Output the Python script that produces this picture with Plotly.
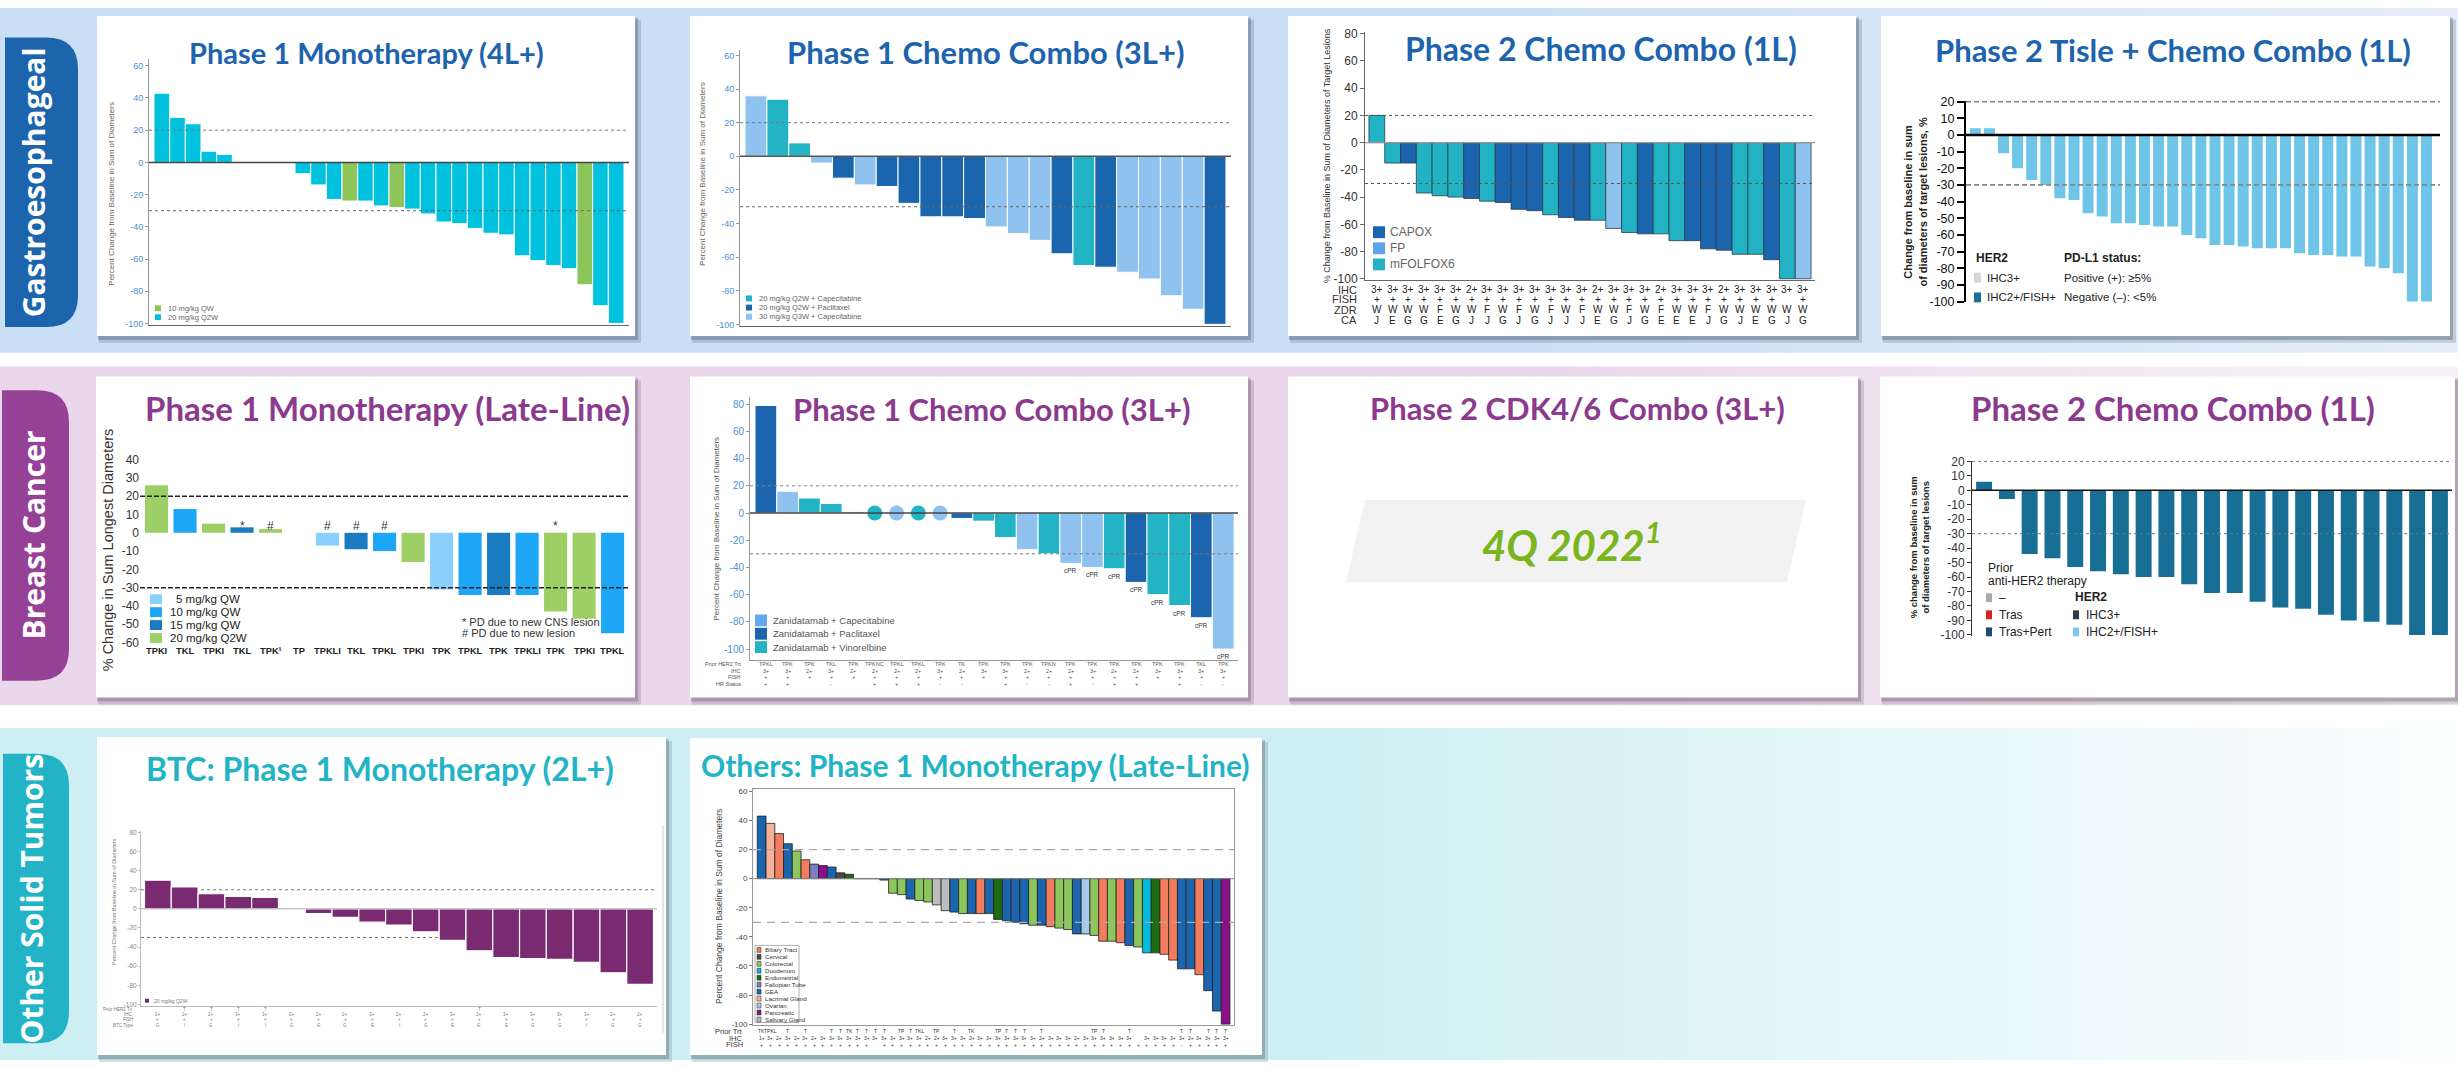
import plotly.graph_objects as go

W, H = 2458, 1067

# ============================ data ============================
# Gastroesophageal - Phase 1 monotherapy (4L+)
ge1_change = [43, 28, 24, 7, 5, 0, 0, 0, 0, -7,
              -14, -23, -24, -24, -27, -28, -29, -32, -37, -38,
              -41, -44, -45, -58, -61, -64, -66, -76, -89, -100]
ge1_dose = ["Q2W", "Q2W", "Q2W", "Q2W", "Q2W", "Q2W", "Q2W", "Q2W", "Q2W", "Q2W",
            "Q2W", "Q2W", "QW", "Q2W", "Q2W", "QW", "Q2W", "Q2W", "Q2W", "Q2W",
            "Q2W", "Q2W", "Q2W", "Q2W", "Q2W", "Q2W", "Q2W", "QW", "Q2W", "Q2W"]
ge1_legend = {"QW": "10 mg/kg QW", "Q2W": "20 mg/kg Q2W"}

# Gastroesophageal - Phase 1 chemo combo (3L+)
ge2_change = [36, 34, 8, -4, -13, -17, -18, -28, -36, -36, -37,
              -42, -46, -50, -58, -65, -66, -69, -73, -83, -91, -100]
ge2_arm = ["C30", "C20", "C20", "C30", "P20", "C30", "P20", "P20", "P20", "P20", "P20",
           "C30", "C30", "C30", "P20", "C20", "P20", "C30", "C30", "C30", "C30", "P20"]
ge2_legend = {"C20": "20 mg/kg Q2W + Capecitabine",
              "P20": "20 mg/kg Q2W + Paclitaxel",
              "C30": "30 mg/kg Q3W + Capecitabine"}

# Gastroesophageal - Phase 2 chemo combo (1L)
ge3_change = [20, -15, -15, -37, -39, -40, -41, -43, -44, -49, -50, -53, -55, -57,
              -57, -63, -66, -67, -67, -72, -72, -78, -79, -82, -82, -86, -100, -100]
ge3_regimen = ["mFOLFOX6", "mFOLFOX6", "CAPOX", "mFOLFOX6", "mFOLFOX6", "mFOLFOX6", "CAPOX",
               "mFOLFOX6", "CAPOX", "CAPOX", "CAPOX", "mFOLFOX6", "CAPOX", "CAPOX",
               "mFOLFOX6", "FP", "mFOLFOX6", "CAPOX", "mFOLFOX6", "mFOLFOX6", "CAPOX",
               "CAPOX", "CAPOX", "mFOLFOX6", "mFOLFOX6", "CAPOX", "mFOLFOX6", "FP"]
ge3_ihc = ["3+", "3+", "3+", "3+", "3+", "3+", "2+", "3+", "3+", "3+", "3+", "3+", "3+", "3+",
           "2+", "3+", "3+", "3+", "2+", "3+", "3+", "3+", "2+", "3+", "3+", "3+", "3+", "3+"]
ge3_fish = ["+", "+", "+", "+", "+", "+", "+", "+", "+", "+", "+", "+", "+", "+",
            "+", "+", "+", "+", "+", "+", "+", "+", "+", "+", "+", "+", "", "+"]
ge3_zdr = ["W", "W", "W", "W", "F", "W", "W", "F", "W", "F", "W", "F", "W", "F",
           "W", "W", "F", "W", "F", "W", "W", "F", "W", "W", "W", "W", "W", "W"]
ge3_ca = ["J", "E", "G", "G", "E", "G", "J", "J", "G", "J", "G", "J", "J", "J",
          "E", "G", "J", "G", "E", "E", "E", "J", "G", "J", "E", "G", "J", "G"]
ge3_rows = ["IHC", "FISH", "ZDR", "CA"]

# Gastroesophageal - Phase 2 tislelizumab + chemo combo (1L)
ge4_change = [4, 4, -11, -20, -27, -30, -38, -39, -47, -49, -53, -53, -54, -55, -55, -60, -62,
              -66, -66, -67, -68, -68, -68, -71, -72, -72, -73, -73, -79, -80, -83, -100, -100]

# Breast - Phase 1 monotherapy (late-line)
bc1_prior = ["TPKI", "TKL", "TPKI", "TKL", "TPK¹", "TP", "TPKLI", "TKL", "TPKL",
             "TPKI", "TPK", "TPKL", "TPK", "TPKLI", "TPK", "TPKI", "TPKL"]
bc1_change = [26, 13, 5, 3, 2, 0, -7, -9, -10, -16, -31, -34, -34, -34, -43, -47, -55]
bc1_dose = ["20", "10", "20", "15", "20", "20", "5", "15", "10",
            "20", "5", "10", "15", "10", "20", "20", "10"]
bc1_flag = ["", "", "", "*", "#", "", "#", "#", "#", "", "", "", "", "", "*", "", ""]
bc1_legend = {"5": "5 mg/kg QW", "10": "10 mg/kg QW", "15": "15 mg/kg QW", "20": "20 mg/kg Q2W"}
bc1_notes = ["* PD due to new CNS lesion", "# PD due to new lesion"]

# Breast - Phase 1 chemo combo (3L+)
bc2_change = [79, 16, 11, 7, 1, 0, 0, 0, 0, -4, -6, -18, -27, -30, -37, -40, -41, -51,
              -60, -68, -77, -100]
bc2_arm = ["Pac", "Cap", "Vin", "Vin", "Vin", "Vin", "Cap", "Vin", "Cap", "Pac", "Vin",
           "Vin", "Cap", "Vin", "Cap", "Cap", "Vin", "Pac", "Vin", "Vin", "Pac", "Cap"]
bc2_resp = ["", "", "", "", "", "", "", "", "", "", "", "", "", "",
            "cPR", "cPR", "cPR", "cPR", "cPR", "cPR", "cPR", "cPR"]
bc2_prior = ["TPKL", "TPK", "TPK", "TKL", "TPK", "TPKNC", "TPKL", "TPKL", "TPK", "TK", "TPK",
             "TPK", "TPK", "TPKN", "TPK", "TPK", "TPK", "TPK", "TPK", "TPK", "TKL", "TPK"]
bc2_ihc = ["3+", "3+", "2+", "3+", "2+", "2+", "2+", "2+", "3+", "2+", "3+",
           "3+", "2+", "2+", "2+", "3+", "2+", "2+", "3+", "3+", "3+", "3+"]
bc2_fish = ["+", "+", "+", "+", "+", "+", "+", "+", "+", "+", "+",
            "+", "+", "+", "+", "+", "+", "+", "+", "+", "+", "+"]
bc2_hr = ["+", "+", "", "-", "", "+", "+", "+", "-", "-", "",
          "+", "-", "-", "+", "-", "+", "+", "", "+", "-", "-"]
bc2_rows = ["Prior HER2 Trt", "IHC", "FISH", "HR Status"]
bc2_legend = {"Cap": "Zanidatamab + Capecitabine", "Pac": "Zanidatamab + Paclitaxel",
              "Vin": "Zanidatamab + Vinorelbine"}

# Breast - Phase 2 CDK4/6 combo (3L+): data readout pending
bc3_readout = "4Q 2022"

# Breast - Phase 2 chemo combo (1L)
bc4_change = [6, -6, -44, -47, -53, -56, -58, -60, -60, -65, -71, -71, -77, -81, -82,
              -86, -90, -91, -93, -100, -100]

# Other solid tumors - BTC Phase 1 monotherapy (2L+)
btc_change = [30, 23, 16, 13, 12, 0, -5, -9, -14, -17, -24, -33, -44, -51, -52, -53, -56, -67, -79]
btc_prior = ["", "T", "T", "T", "T", "", "", "", "", "", "", "", "T", "", "", "", "", "", ""]
btc_ihc = ["2+", "2+", "2+", "3+", "3+", "2+", "2+", "2+", "3+", "2+", "2+", "3+", "2+",
           "3+", "3+", "3+", "3+", "2+", "2+"]
btc_fish = ["+", "+", "+", "+", "+", "+", "+", "+", "+", "+", "+", "+", "+",
            "+", "+", "+", "+", "+", "+"]
btc_type = ["G", "I", "G", "I", "I", "G", "G", "G", "E", "I", "G", "E", "G",
            "E", "G", "G", "I", "G", "G"]
btc_rows = ["Prior HER2 Tx", "IHC", "FISH", "BTC Type"]

# Other solid tumors - Phase 1 monotherapy (late-line), other tumour types
oth_change = [43, 38, 31, 24, 19, 13, 10, 9, 8, 4,
              3, 0, 0, 0, -1, -10, -11, -14, -15, -16,
              -18, -22, -23, -24, -24, -24, -24, -28, -29, -30,
              -31, -32, -32, -33, -34, -35, -38, -38, -39, -43,
              -43, -44, -46, -47, -51, -51, -52, -56, -62, -62,
              -66, -77, -91, -100]
oth_tumor = ["GEA", "Lacrimal Gland", "Biliary Tract", "GEA", "Colorectal",
             "Biliary Tract", "Fallopian Tube", "Pancreatic", "GEA", "Cervical",
             "Endometrial", "GEA", "GEA", "GEA", "GEA",
             "Colorectal", "Colorectal", "GEA", "Colorectal", "Colorectal",
             "Salivary Gland", "Salivary Gland", "GEA", "Colorectal", "GEA",
             "Biliary Tract", "GEA", "Endometrial", "GEA", "GEA",
             "GEA", "Colorectal", "GEA", "Biliary Tract", "Colorectal",
             "Colorectal", "GEA", "Ovarian", "Colorectal", "Biliary Tract",
             "Colorectal", "Biliary Tract", "GEA", "Colorectal", "Duodenum",
             "Endometrial", "Biliary Tract", "Biliary Tract", "GEA", "GEA",
             "Biliary Tract", "GEA", "GEA", "Pancreatic"]
oth_prior = ["TK", "TPKL", "", "T", "", "T", "", "", "T", "T",
             "TK", "T", "T", "T", "T", "", "TP", "T", "TKL", "",
             "TP", "", "T", "", "TK", "", "", "TP", "T", "T",
             "T", "", "T", "", "", "", "", "", "TP", "T",
             "", "", "T", "", "", "", "", "", "T", "T",
             "", "T", "T", "T"]
oth_ihc = ["1+", "3+", "2+", "3+", "2+", "3+", "2+", "3+", "3+", "3+",
           "3+", "3+", "3+", "3+", "3+", "3+", "3+", "3+", "3+", "2+",
           "2+", "3+", "3+", "3+", "2+", "3+", "3+", "3+", "3+", "3+",
           "3+", "3+", "2+", "3+", "3+", "3+", "2+", "3+", "3+", "3+",
           "3+", "3+", "3+", "", "3+", "3+", "3+", "3+", "3+", "2+",
           "3+", "3+", "3+", "3+"]
oth_fish = ["+", "+", "+", "+", "+", "+", "+", "+", "+", "+",
            "+", "+", "+", "", "+", "+", "+", "+", "+", "+",
            "+", "+", "+", "+", "+", "+", "+", "+", "+", "+",
            "+", "+", "+", "+", "+", "+", "+", "+", "+", "+",
            "+", "+", "+", "+", "+", "+", "+", "+", "-", "+",
            "+", "+", "+", "+"]
oth_rows = ["Prior Trt", "IHC", "FISH"]
oth_types = ["Biliary Tract", "Cervical", "Colorectal", "Duodenum", "Endometrial",
             "Fallopian Tube", "GEA", "Lacrimal Gland", "Ovarian", "Pancreatic",
             "Salivary Gland"]

# ============================ styling ============================
SANS = "Liberation Sans, Arial, sans-serif"
NARROW = "Liberation Sans Narrow, Arial Narrow, Liberation Sans, sans-serif"
TITLE = "Lato, Carlito, Calibri, sans-serif"
LABEL = "Open Sans, DejaVu Sans, sans-serif"

BLUE_T, PURPLE_T, CYAN_T = "#1d63ad", "#8b3a8e", "#22b4c6"

ge1_col = {"QW": "#8ec55b", "Q2W": "#00c2df"}
ge2_col = {"C20": "#22b4c4", "P20": "#1a65ad", "C30": "#8fc2ee"}
ge3_col = {"CAPOX": "#1a65ad", "FP": "#8fc3ef", "mFOLFOX6": "#21b3c4"}
ge3_swatch = {"CAPOX": "#1a65ad", "FP": "#5ca3e7", "mFOLFOX6": "#21b3c4"}
bc1_col = {"5": "#8ad0fc", "10": "#1da6f6", "15": "#1a7cc0", "20": "#9dcf66"}
bc2_col = {"Cap": "#8fc2ee", "Pac": "#1a65ad", "Vin": "#22b4c4"}
bc2_swatch = {"Cap": "#62a9eb", "Pac": "#1a65ad", "Vin": "#22b4c4"}
oth_col = {"Biliary Tract": "#f47c5e", "Cervical": "#4a4a4a", "Colorectal": "#8dc65b",
           "Duodenum": "#00bcd8", "Endometrial": "#1f6b14", "Fallopian Tube": "#7c80c2",
           "GEA": "#1a65ad", "Lacrimal Gland": "#f6b196", "Ovarian": "#a7c9eb",
           "Pancreatic": "#8a108a", "Salivary Gland": "#bdbdbd"}

fig = go.Figure()
shapes, anns = [], []
PANEL = {}


def X(p):
    return p / W


def Y(p):
    return 1 - p / H


def sfx(n):
    return "" if n == 1 else str(n)


def ref(n):
    return "x" + sfx(n), "y" + sfx(n)


def rect(x0, y0, x1, y1, fill, layer="below", line_color=None, line_width=0):
    shapes.append(dict(type="rect", xref="paper", yref="paper",
                       x0=X(x0), x1=X(x1), y0=Y(y1), y1=Y(y0),
                       fillcolor=fill, layer=layer,
                       line=dict(color=line_color or fill, width=line_width)))


def note(x, y, text, size, color, family=SANS, xanchor="center", yanchor="middle", angle=0):
    anns.append(dict(x=X(x), y=Y(y), xref="paper", yref="paper", text=text, showarrow=False,
                     font=dict(size=size, color=color, family=family),
                     xanchor=xanchor, yanchor=yanchor, textangle=angle))


def mix(c0, c1, t):
    a = [int(c0[i:i + 2], 16) for i in (1, 3, 5)]
    b = [int(c1[i:i + 2], 16) for i in (1, 3, 5)]
    return "#" + "".join(f"{round(u + (v - u) * t):02x}" for u, v in zip(a, b))


def hgrad(x0, x1, y0, y1, c0, c1, steps=40):
    for i in range(steps):
        xa = x0 + (x1 - x0) * i / steps
        xb = x0 + (x1 - x0) * (i + 1) / steps + 0.6
        rect(xa, y0, xb, y1, mix(c0, c1, i / (steps - 1)))


def band(y0, y1, c0, c1, fade_from):
    rect(0, y0, fade_from + 1, y1, c0)
    hgrad(fade_from, W, y0, y1, c0, c1)


def card(x0, y0, x1, y1, shade):
    rect(x0 + 2, y0 + 4, x1 + 6, y1 + 7, f"rgba({shade},0.22)")
    rect(x0 + 1, y0 + 2, x1 + 3, y1 + 4, f"rgba({shade},0.35)")
    rect(x0, y0, x1, y1, "#ffffff")


def side_tab(x0, y0, x1, y1, r, fill, text, tx):
    path = (f"M {X(x0)},{Y(y0)} L {X(x1 - r)},{Y(y0)} Q {X(x1)},{Y(y0)} {X(x1)},{Y(y0 + r)} "
            f"L {X(x1)},{Y(y1 - r)} Q {X(x1)},{Y(y1)} {X(x1 - r)},{Y(y1)} L {X(x0)},{Y(y1)} Z")
    shapes.append(dict(type="path", xref="paper", yref="paper", path=path,
                       fillcolor=fill, line=dict(width=0), layer="below"))
    note(tx, (y0 + y1) / 2, f"<b>{text}</b>", 30, "#ffffff", LABEL, angle=-90)


def axes(n, xpx, ypx, xr, yr, xs=None, ys=None):
    PANEL[n] = (ypx, yr)
    xa = dict(domain=[X(xpx[0]), X(xpx[1])], range=xr, anchor="y" + sfx(n),
              showgrid=False, zeroline=False, showticklabels=False, ticks="",
              showline=False, fixedrange=True)
    ya = dict(domain=[Y(ypx[1]), Y(ypx[0])], range=yr, anchor="x" + sfx(n),
              showgrid=False, zeroline=False, showline=False, fixedrange=True)
    xa.update(xs or {})
    ya.update(ys or {})
    fig.update_layout({"xaxis" + sfx(n): xa, "yaxis" + sfx(n): ya})


def bars(n, values, colors, width=1.0, line_color="#ffffff", line_width=1.0, **kw):
    xr, yr = ref(n)
    fig.add_trace(go.Bar(x=list(range(len(values))), y=values, width=width,
                         marker=dict(color=colors, line=dict(color=line_color, width=line_width)),
                         xaxis=xr, yaxis=yr, hoverinfo="skip", showlegend=False, **kw))


def hline(n, y, color, width, dash="solid", layer="above"):
    s = sfx(n)
    shapes.append(dict(type="line", xref=f"x{s} domain", yref=f"y{s}", x0=0, x1=1,
                       y0=y, y1=y, line=dict(color=color, width=width, dash=dash), layer=layer))


def text_row(n, labels, pix, size, color, family=SANS):
    # one label per bar slot, placed at a fixed height on the card
    for i, lab in enumerate(labels):
        if lab:
            anns.append(dict(x=i, xref="x" + sfx(n), y=Y(pix), yref="paper", text=lab,
                             showarrow=False, xanchor="center", yanchor="middle",
                             font=dict(size=size, color=color, family=family)))


def bar_tags(n, labels, values, size, color, family=SANS):
    # response tags hung just below the end of each bar
    for i, (lab, v) in enumerate(zip(labels, values)):
        if lab:
            anns.append(dict(x=i, xref="x" + sfx(n), y=v, yref="y" + sfx(n), text=lab,
                             showarrow=False, xanchor="center", yanchor="top", yshift=-2,
                             font=dict(size=size, color=color, family=family)))


def yticks(vals, size, color, family=SANS, **kw):
    d = dict(tickmode="array", tickvals=vals, ticktext=[str(v) for v in vals],
             showticklabels=True, tickfont=dict(size=size, color=color, family=family))
    d.update(kw)
    return d


# ============================ background ============================
band(2, 351, "#c9dff5", "#e6eff9", 1500)
band(365, 708, "#ebd7eb", "#f8f2f8", 1550)
band(731, 1067, "#cdeff3", "#fbfefe", 1270)

side_tab(5, 32, 78, 325, 32, "#1c64ac", "Gastroesophageal", 33)
side_tab(2, 389, 69, 683, 32, "#954196", "Breast Cancer", 33)
side_tab(3, 757, 69, 1050, 32, "#22b4c6", "Other Solid Tumors", 31)

for c in [(97, 10, 635, 334), (690, 10, 1248, 334), (1288, 10, 1856, 334), (1881, 10, 2450, 334)]:
    card(*c, "70,85,110")
for c in [(96, 375, 635, 700), (690, 375, 1248, 700), (1288, 375, 1858, 700), (1880, 375, 2455, 700)]:
    card(*c, "105,80,110")
for c in [(97, 740, 666, 1062), (690, 741, 1262, 1062)]:
    card(*c, "80,110,120")

# ============================ GE 1: Phase 1 monotherapy ============================
axes(1, (149, 629), (54, 323), [-0.82, 29.82], [-101, 64],
     xs=dict(showline=True, linecolor="#666", linewidth=1),
     ys=dict(showline=True, linecolor="#999", linewidth=1, ticks="outside", ticklen=3,
             tickcolor="#999", **yticks(list(range(-100, 61, 20)), 9, "#4f8fd0")))
bars(1, ge1_change, [ge1_col[d] for d in ge1_dose])
hline(1, 20, "#777", 1, "dot")
hline(1, -30, "#666", 1, "dot")
hline(1, 0, "#444", 1.5)
note(366, 47, "<b>Phase 1 Monotherapy (4L+)</b>", 29, BLUE_T, TITLE)
note(112, 190, "Percent Change from Baseline in Sum of Diameters", 8, "#666", SANS, angle=-90)
for i, k in enumerate(["QW", "Q2W"]):
    yy = 306 + 9 * i
    rect(155, yy - 3, 161, yy + 3, ge1_col[k], layer="above")
    note(166, yy, ge1_legend[k], 7.5, "#666", SANS, xanchor="left")

# ============================ GE 2: Phase 1 chemo combo ============================
axes(2, (740, 1231), (45, 324), [-0.73, 21.73], [-101, 63],
     xs=dict(showline=True, linecolor="#666", linewidth=1),
     ys=dict(showline=True, linecolor="#999", linewidth=1, ticks="outside", ticklen=3,
             tickcolor="#999", **yticks(list(range(-100, 61, 20)), 9, "#4f8fd0")))
bars(2, ge2_change, [ge2_col[a] for a in ge2_arm])
hline(2, 20, "#777", 1, "dot")
hline(2, -30, "#666", 1, "dot")
hline(2, 0, "#555", 1.5)
note(985, 47, "<b>Phase 1 Chemo Combo (3L+)</b>", 31, BLUE_T, TITLE)
note(703, 170, "Percent Change from Baseline in Sum of Diameters", 8, "#666", SANS, angle=-90)
for i, k in enumerate(["C20", "P20", "C30"]):
    yy = 296 + 9.3 * i
    rect(746, yy - 3, 752, yy + 3, ge2_col[k], layer="above")
    note(757, yy, ge2_legend[k], 7.5, "#666", SANS, xanchor="left")

# ============================ GE 3: Phase 2 chemo combo ============================
axes(3, (1365, 1815), (26.7, 277.5), [-0.75, 27.75], [-101, 81],
     xs=dict(showline=True, linecolor="#666", linewidth=1),
     ys=dict(showline=True, linecolor="#666", linewidth=1, ticks="outside", ticklen=4,
             tickcolor="#666", **yticks(list(range(-100, 81, 20)), 12, "#333")))
bars(3, ge3_change, [ge3_col[r] for r in ge3_regimen], line_color="#2e3b48", line_width=0.8)
hline(3, 20, "#555", 1, "3px,3px")
hline(3, -30, "#555", 1, "3px,3px")
hline(3, 0, "#999", 1.2)
note(1601, 43, "<b>Phase 2 Chemo Combo (1L)</b>", 32, BLUE_T, TITLE)
note(1327, 152, "% Change from Baseline in Sum of Diameters of Target Lesions", 9, "#333",
     SANS, angle=-90)
for i, k in enumerate(["CAPOX", "FP", "mFOLFOX6"]):
    yy = 229 + 16.3 * i
    rect(1373, yy - 6, 1385, yy + 6, ge3_swatch[k], layer="above")
    note(1388, yy, k, 12, "#666", SANS, xanchor="left")
for lab, row, pix in zip(ge3_rows, [ge3_ihc, ge3_fish, ge3_zdr, ge3_ca], [287, 297, 307.5, 318]):
    note(1359, pix, lab, 11, "#333", SANS, xanchor="right")
    text_row(3, row, pix, 10, "#222", SANS)

# ============================ GE 4: Phase 2 tislelizumab + chemo ============================
axes(4, (1966, 2440), (96, 300), [-0.66, 32.96], [-100.5, 20.5],
     ys=dict(showline=True, linecolor="#000", linewidth=2, ticks="outside", ticklen=7,
             tickwidth=1.5, tickcolor="#000", **yticks(list(range(-100, 21, 10)), 12.5, "#111",
                                                        NARROW)))
bars(4, ge4_change, "#6fc5e8", width=0.78, line_width=0)
hline(4, 20, "#888", 1.8, "5px,3px")
hline(4, -30, "#888", 1.8, "5px,3px")
hline(4, 0, "#000", 2.5)
note(2173, 45, "<b>Phase 2 Tisle + Chemo Combo (1L)</b>", 31, BLUE_T, TITLE)
note(1915, 198, "<b>Change from baseline in sum<br>of diameters of target lesions, %</b>",
     11, "#222", SANS, angle=-90)
note(1974, 255, "<b>HER2</b>", 12, "#222", NARROW, xanchor="left")
rect(1974, 270, 1981, 280, "#d3d6da", layer="above")
note(1985, 275, "IHC3+", 11.5, "#222", NARROW, xanchor="left")
rect(1974, 290, 1981, 300, "#1b6f8e", layer="above")
note(1985, 295, "IHC2+/FISH+", 11.5, "#222", NARROW, xanchor="left")
note(2062, 255, "<b>PD-L1 status:</b>", 12, "#222", NARROW, xanchor="left")
note(2062, 275, "Positive (+): ≥5%", 11.5, "#222", NARROW, xanchor="left")
note(2062, 295, "Negative (–): <5%", 11.5, "#222", NARROW, xanchor="left")

# ============================ BC 1: Phase 1 monotherapy ============================
axes(5, (140, 628), (455.6, 648), [-0.58, 16.54], [-62, 42],
     ys=dict(ticks="", **yticks(list(range(-60, 41, 10)), 12, "#333", NARROW)))
bars(5, bc1_change, [bc1_col[d] for d in bc1_dose], width=0.81, line_width=0)
hline(5, 20, "#222", 1.5, "5px,2px")
hline(5, -30, "#222", 1.5, "5px,2px")
note(387, 407, "<b>Phase 1 Monotherapy (Late-Line)</b>", 33, PURPLE_T, TITLE)
note(108, 551, "% Change in Sum Longest Diameters", 14.5, "#333", NARROW, angle=-90)
text_row(5, [f"<b>{p}</b>" for p in bc1_prior], 653, 9.3, "#222", SANS)
text_row(5, bc1_flag, 526, 12, "#333", SANS)
for i, k in enumerate(["5", "10", "15", "20"]):
    yy = 600.5 + 13.1 * i
    rect(150, yy - 5, 162, yy + 5, bc1_col[k], layer="above")
    note(168 if k != "5" else 174, yy, bc1_legend[k], 11.5, "#222", NARROW, xanchor="left")
for i, t in enumerate(bc1_notes):
    note(460, 624 + 11 * i, t, 11, "#333", NARROW, xanchor="left")

# ============================ BC 2: Phase 1 chemo combo ============================
axes(6, (750, 1238), (395.5, 662), [-0.73, 21.68], [-108, 85.5],
     xs=dict(showline=True, linecolor="#999", linewidth=1),
     ys=dict(showline=True, linecolor="#999", linewidth=1, ticks="outside", ticklen=3,
             tickcolor="#999", **yticks(list(range(-100, 81, 20)), 10, "#4f8fd0")))
bars(6, bc2_change, [bc2_col[a] for a in bc2_arm])
bar_tags(6, bc2_resp, bc2_change, 6.5, "#333")
zero_idx = [i for i, v in enumerate(bc2_change) if v == 0]
fig.add_trace(go.Scatter(x=zero_idx, y=[bc2_change[i] for i in zero_idx], mode="markers",
                         marker=dict(size=15, color=[bc2_col[bc2_arm[i]] for i in zero_idx]),
                         xaxis="x6", yaxis="y6", hoverinfo="skip", showlegend=False,
                         cliponaxis=False))
hline(6, 20, "#888", 1, "dot")
hline(6, -30, "#777", 1, "dot")
hline(6, 0, "#444", 1.5)
note(991, 408, "<b>Phase 1 Chemo Combo (3L+)</b>", 31, PURPLE_T, TITLE)
note(717, 529, "Percent Change from Baseline in Sum of Diameters", 8, "#555", SANS, angle=-90)
for i, k in enumerate(["Cap", "Pac", "Vin"]):
    yy = 622 + 13.5 * i
    rect(755, yy - 6, 767, yy + 6, bc2_swatch[k], layer="above")
    note(771, yy, bc2_legend[k], 9.5, "#555", NARROW, xanchor="left")
for lab, row, pix in zip(bc2_rows, [bc2_prior, bc2_ihc, bc2_fish, bc2_hr], [666, 673, 679.5, 686]):
    note(743, pix, lab, 5.5, "#555", SANS, xanchor="right")
    text_row(6, row, pix, 5.5, "#555", SANS)

# ============================ BC 3: Phase 2 CDK4/6 combo ============================
note(1577, 407, "<b>Phase 2 CDK4/6 Combo (3L+)</b>", 31, PURPLE_T, TITLE)
shapes.append(dict(type="path", xref="paper", yref="paper", fillcolor="#f2f2f2",
                   line=dict(width=0), layer="below",
                   path=(f"M {X(1365)},{Y(500)} L {X(1806)},{Y(500)} L {X(1787)},{Y(583)} "
                         f"L {X(1346)},{Y(583)} Z")))
note(1572, 543, f"<b><i>{bc3_readout}<sup>1</sup></i></b>", 42, "#7ab51d", TITLE)

# ============================ BC 4: Phase 2 chemo combo ============================
axes(7, (1972, 2452), (460.3, 638.1), [-0.53, 20.53], [-101, 20.5],
     ys=dict(showline=True, linecolor="#333", linewidth=1, ticks="outside", ticklen=4,
             tickcolor="#333", **yticks(list(range(-100, 21, 10)), 12, "#333", NARROW)))
bars(7, bc4_change, "#176f96", width=0.7, line_width=0)
hline(7, 20, "#777", 1, "dot")
hline(7, -30, "#777", 1, "dot")
hline(7, 0, "#111", 1.5)
note(2173, 407, "<b>Phase 2 Chemo Combo (1L)</b>", 33, PURPLE_T, TITLE)
note(1919, 548, "<b>% change from baseline in sum<br>of diameters of target lesions</b>",
     9.5, "#222", SANS, angle=-90)
note(1986, 569, "Prior", 12, "#222", NARROW, xanchor="left")
note(1986, 582, "anti-HER2 therapy", 12, "#222", NARROW, xanchor="left")
for i, (col, lab) in enumerate([("#a9a9a9", "–"), ("#d9261c", "Tras"), ("#1b4a73", "Tras+Pert")]):
    yy = 599 + 17.3 * i
    rect(1986, yy - 4.5, 1992, yy + 4.5, col, layer="above")
    note(1997, yy, lab, 12, "#222", NARROW, xanchor="left")
note(2073, 598, "<b>HER2</b>", 12, "#222", NARROW, xanchor="left")
for i, (col, lab) in enumerate([("#2b3a48", "IHC3+"), ("#7cc8ef", "IHC2+/FISH+")]):
    yy = 616.3 + 17.3 * i
    rect(2073, yy - 4.5, 2079, yy + 4.5, col, layer="above")
    note(2084, yy, lab, 12, "#222", NARROW, xanchor="left")

# ============================ OST 1: BTC ============================
axes(8, (141, 657), (834.7, 1012.6), [-0.63, 18.63], [-102, 82],
     xs=dict(showline=True, linecolor="#bbb", linewidth=1),
     ys=dict(showline=True, linecolor="#bbb", linewidth=1, ticks="outside", ticklen=2,
             tickcolor="#bbb", **yticks(list(range(-100, 81, 20)), 6.5, "#888")))
bars(8, btc_change, "#7a2a70", line_width=1.2)
hline(8, 20, "#777", 1, "dot", layer="below")
hline(8, -30, "#777", 1, "dot", layer="below")
hline(8, 0, "#aaa", 1)
shapes.append(dict(type="line", xref="paper", yref="paper", x0=X(663), x1=X(663),
                   y0=Y(1040), y1=Y(830), line=dict(color="#ccc", width=1), layer="below"))
note(380, 772, "<b>BTC: Phase 1 Monotherapy (2L+)</b>", 32, CYAN_T, TITLE)
note(114, 907, "Percent Change from Baseline in Sum of Diameters", 5.5, "#777", SANS, angle=-90)
rect(145, 1005, 149, 1009, "#7a2a70", layer="above")
note(152, 1007, "20 mg/kg Q2W", 5, "#777", SANS, xanchor="left")
for lab, row, pix in zip(btc_rows, [btc_prior, btc_ihc, btc_fish, btc_type], [1016, 1021, 1026, 1032]):
    note(135, pix, lab, 4.5, "#777", SANS, xanchor="right")
    text_row(8, row, pix, 4.5, "#777", SANS)

# ============================ OST 2: other tumour types ============================
axes(9, (753, 1234), (793, 1032), [-0.99, 53.96], [-100.9, 61.4],
     xs=dict(showline=True, linecolor="#999", linewidth=1, mirror=True),
     ys=dict(showline=True, linecolor="#999", linewidth=1, mirror=True, ticks="outside",
             ticklen=3, tickcolor="#777", **yticks(list(range(-100, 61, 20)), 8, "#444", NARROW)))
bars(9, oth_change, [oth_col[t] for t in oth_tumor], line_color="#222", line_width=0.8)
hline(9, 20, "#aaa", 1.2, "8px,6px")
hline(9, -30, "#aaa", 1.2, "8px,6px")
hline(9, 0, "#888", 1)
note(975, 768, "<b>Others: Phase 1 Monotherapy (Late-Line)</b>", 30, CYAN_T, TITLE)
note(719, 912, "Percent Change from Baseline in Sum of Diameters", 8.5, "#444", NARROW, angle=-90)
rect(755, 951, 799, 1029, "#ffffff", layer="above", line_color="#999", line_width=0.8)
for i, t in enumerate(oth_types):
    yy = 955.5 + 7.05 * i
    rect(757, yy - 2.5, 761, yy + 2.5, oth_col[t], layer="above", line_color="#222",
         line_width=0.5)
    note(763, yy, t, 6.2, "#333", NARROW, xanchor="left")
for lab, row, pix in zip(oth_rows, [oth_prior, oth_ihc, oth_fish], [1038, 1045, 1051.5]):
    note(745, pix, lab, 7.5, "#333", NARROW, xanchor="right")
    text_row(9, row, pix, 5, "#333", SANS)

fig.update_layout(width=W, height=H, margin=dict(l=0, r=0, t=0, b=0),
                  paper_bgcolor="#ffffff", plot_bgcolor="rgba(0,0,0,0)",
                  showlegend=False, shapes=shapes, annotations=anns)
fig.write_html("out.html", config={"displayModeBar": False})
